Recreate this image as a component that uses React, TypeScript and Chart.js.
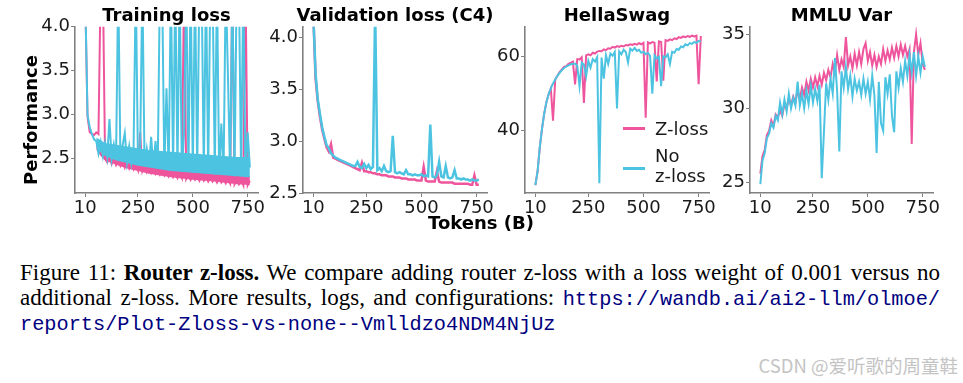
import React, { useEffect, useRef } from "react";
import { Chart, registerables } from "chart.js";

Chart.register(...registerables);

const PINK = "#EE559C";
const BLUE = "#4CC3E1";

const tokens = [
  10, 20, 30, 40, 50, 60, 70, 80, 90, 100,
  110, 120, 130, 140, 150, 160, 170, 180, 190, 200,
  210, 220, 230, 240, 250, 260, 270, 280, 290, 300,
  310, 320, 330, 340, 350, 360, 370, 380, 390, 400,
  410, 420, 430, 440, 450, 460, 470, 480, 490, 500,
  510, 520, 530, 540, 550, 560, 570, 580, 590, 600,
  610, 620, 630, 640, 650, 660, 670, 680, 690, 700,
  710, 720, 730, 740, 750, 760,
];

const xTicks = [10, 250, 500, 750];

// Training loss
const trainZ = [
  4.3, 2.98, 2.8, 2.78, 2.77, 2.8, 2.78, 4.5, 4.5, 2.5,
  2.46, 2.52, 2.44, 2.5, 2.43, 2.49, 2.42, 2.48, 2.4, 2.46,
  2.39, 2.45, 2.38, 2.44, 2.37, 2.8, 2.36, 2.42, 2.35, 2.41,
  2.34, 2.4, 2.33, 2.38, 2.32, 2.37, 2.31, 2.36, 2.3, 2.35,
  2.29, 2.34, 2.28, 2.33, 2.28, 4.5, 2.27, 2.32, 2.26, 2.31,
  2.26, 2.3, 2.25, 2.3, 2.25, 2.29, 2.24, 2.29, 2.24, 2.28,
  2.23, 2.28, 2.23, 2.27, 2.22, 2.27, 2.22, 4.5, 2.21, 2.26,
  2.21, 2.26, 2.2, 4.5, 2.2, 2.25,
];
const trainNo = [
  4.3, 3.0, 2.86, 2.78, 2.72, 2.7, 2.56, 2.69, 2.53, 2.68,
  2.52, 2.95, 2.5, 2.66, 2.49, 4.5, 2.48, 2.65, 2.79, 2.46,
  2.64, 2.45, 2.63, 4.5, 2.44, 2.62, 4.5, 2.42, 2.61, 2.41,
  2.75, 2.4, 2.7, 2.39, 4.5, 4.5, 2.38, 3.3, 2.37, 4.5,
  2.36, 4.5, 2.36, 4.5, 2.35, 2.8, 4.5, 2.35, 4.5, 2.34,
  4.5, 2.34, 4.5, 4.5, 2.33, 4.5, 2.33, 4.5, 4.5, 2.32,
  4.5, 2.32, 2.9, 2.32, 4.5, 3.45, 2.31, 4.5, 2.3, 4.5,
  4.5, 2.3, 4.5, 2.29, 2.8, 2.4,
];
// Noise-band envelopes of the training curves
const trainBandTokens = [60, 80, 100, 150, 200, 250, 300, 400, 500, 600, 700, 760];
const trainNoLow = [2.64, 2.57, 2.53, 2.48, 2.45, 2.42, 2.4, 2.36, 2.34, 2.32, 2.3, 2.29];
const trainNoHigh = [2.74, 2.71, 2.68, 2.66, 2.64, 2.62, 2.6, 2.58, 2.56, 2.54, 2.52, 2.52];
const trainZLow = [2.6, 2.53, 2.48, 2.43, 2.39, 2.36, 2.33, 2.29, 2.26, 2.24, 2.21, 2.2];
const trainZHigh = [2.66, 2.59, 2.55, 2.5, 2.47, 2.44, 2.42, 2.38, 2.36, 2.34, 2.32, 2.31];
const trainTicks = [2.5, 3.0, 3.5, 4.0];

// Validation loss (C4)
const valZ = [
  4.2, 3.6, 3.38, 3.23, 3.11, 3.02, 2.94, 2.9, 2.97, 2.84,
  2.83, 2.82, 2.81, 2.8, 2.79, 2.78, 2.77, 2.76, 2.75, 2.74,
  2.73, 2.72, 2.79, 2.71, 2.71, 2.7, 2.7, 2.69, 2.69, 2.68,
  2.68, 2.67, 2.67, 2.67, 2.66, 2.66, 2.66, 2.65, 2.65, 2.65,
  2.64, 2.64, 2.64, 2.63, 2.63, 2.63, 2.63, 2.62, 2.62, 2.62,
  2.75, 2.62, 2.61, 2.61, 2.61, 2.61, 2.71, 2.61, 2.6, 2.6,
  2.6, 2.6, 2.6, 2.6, 2.59, 2.59, 2.59, 2.59, 2.59, 2.59,
  2.59, 2.58, 2.58, 2.67, 2.58, 2.58,
];
const valNo = [
  4.2, 3.65, 3.4, 3.26, 3.13, 3.04, 2.96, 2.93, 2.88, 2.86,
  2.84, 2.83, 2.82, 2.81, 2.8, 2.79, 2.78, 2.77, 2.76, 2.76,
  2.8, 2.75, 2.74, 2.78, 2.74, 2.77, 2.73, 2.75, 4.3, 2.72,
  2.74, 2.71, 2.76, 2.71, 2.7, 2.71, 3.05, 2.7, 2.69, 2.7,
  2.69, 2.68, 2.72, 2.68, 2.68, 2.67, 2.68, 2.67, 2.67, 2.68,
  2.66, 2.67, 2.66, 3.16, 2.66, 2.65, 2.67, 2.8, 2.66, 2.65,
  2.76, 2.65, 2.64, 2.65, 2.72, 2.64, 2.64, 2.63, 2.64, 2.63,
  2.63, 2.62, 2.63, 2.62, 2.62, 2.63,
];
const valTicks = [2.5, 3.0, 3.5, 4.0];

// HellaSwag
const hellaZ = [
  25.3, 29, 35.5, 40.5, 44.6, 47.7, 49.8, 51.4, 42.7, 53.8,
  54.8, 55.8, 56.5, 57.2, 57.4, 58, 58.3, 58.6, 52.5, 59.3,
  59.2, 59.8, 47.5, 60.3, 60.6, 60.3, 61, 60.8, 61.3, 61.5,
  61.4, 61.9, 61.7, 62.2, 62.1, 62.6, 62.4, 62.8, 62.6, 62.9,
  62.7, 63.1, 63, 63.3, 63.1, 63.4, 63.2, 63.6, 63.3, 63.7,
  43.5, 63.8, 63.5, 63.9, 63.7, 53.3, 64.1, 63.9, 53.5, 64.4,
  64.2, 64.6, 64.4, 64.9, 64.7, 65.2, 65, 65.4, 65.2, 65.5,
  65.3, 65.6, 65.4, 65.6, 52.5, 65.5,
];
const hellaNo = [
  25.3, 29, 35.5, 40.5, 44.6, 47.7, 49.8, 51.4, 52.7, 53.8,
  54.8, 55.6, 56.3, 56.9, 57.3, 57.6, 57.9, 58, 58.1, 57.5,
  52, 58.3, 57.8, 54.7, 58.8, 57, 59.3, 58.6, 59.8, 25.8,
  59.7, 54, 60.3, 58, 60.8, 60.2, 61.2, 46, 61.4, 60.6,
  61.8, 61.2, 58.4, 62.1, 61.6, 62.3, 61.5, 61.8, 61, 61.3,
  60.6, 61, 60.2, 50, 60.3, 59.5, 59.9, 52, 60, 59.8,
  60.6, 58, 61.3, 61, 62, 61.8, 62.7, 62.5, 63.3, 63,
  63.6, 63.4, 63.9, 63.7, 64.2, 64,
];
const hellaTicks = [40, 60];

// MMLU Var
const mmluZ = [
  25.6, 26.8, 27.2, 28.2, 28.5, 29.2, 28.8, 29.6, 29.4, 29.9,
  29.5, 30.3, 30.0, 30.7, 30.2, 30.8, 30.4, 31.2, 30.6, 31.4,
  30.9, 31.8, 31.2, 32.0, 31.4, 32.1, 31.5, 32.2, 31.6, 32.4,
  31.9, 32.6, 32.1, 33.0, 32.4, 33.6, 32.6, 33.3, 32.8, 34.8,
  32.9, 33.5, 32.7, 33.7, 32.9, 33.8, 33.0, 34.0, 34.4, 33.2,
  33.8, 32.9, 33.6, 32.8, 33.5, 33.0, 34.0, 33.2, 33.9, 33.3,
  34.1, 33.4, 34.2, 33.5, 34.3, 33.6, 34.2, 33.5, 34.0, 27.6,
  33.8, 35.0, 33.6, 34.4, 33.0, 32.6,
];
const mmluNo = [
  24.9, 26.5, 27.0, 28.0, 28.3, 29.0, 28.7, 29.5, 29.2, 30.4,
  29.6, 30.6, 29.8, 31.0, 30.0, 30.7, 30.2, 31.8, 30.2, 31.0,
  30.0, 31.2, 30.3, 31.5, 30.4, 31.3, 30.5, 31.6, 25.3, 28.4,
  31.7, 30.6, 32.0, 31.0, 33.4, 31.2, 27.1, 32.5, 31.4, 32.8,
  31.3, 32.2, 30.8, 32.0, 31.2, 31.8, 30.9, 32.0, 31.0, 31.8,
  30.6, 32.2, 30.9, 27.0, 31.8, 29.0, 28.5, 32.1, 31.0, 32.3,
  29.5, 28.4, 32.5, 31.4, 32.7, 31.8, 33.2, 32.2, 33.6, 32.4,
  33.8, 32.2, 33.5, 32.4, 33.5, 32.8,
];
const mmluTicks = [25, 30, 35];

const TICK_FONT = { family: "'DejaVu Sans', sans-serif", size: 18 };
const TICK_COLOR = "#1a1a1a";
const AXIS_COLOR = "#808080";

type Bands = {
  x: number[];
  noLow: number[];
  noHigh: number[];
  zLow: number[];
  zHigh: number[];
};

type PanelProps = {
  axisLeft: number;
  axisRight: number;
  z: number[];
  no: number[];
  yMin: number;
  yMax: number;
  yTicks: number[];
  decimals: number;
  lineWidth: number;
  bands?: Bands;
};

const Y_W = 45;
const X_H = 30;
const PAD_T = 10;
const PAD_R = 12;
const AREA_TOP = 25;
const AREA_BOTTOM = 193;

const pts = (xs: number[], ys: number[]) => xs.map((x, i) => ({ x, y: ys[i] }));

function Panel(props: PanelProps) {
  const ref = useRef<HTMLCanvasElement | null>(null);
  const left = props.axisLeft - Y_W;
  const width = props.axisRight - props.axisLeft + Y_W + PAD_R;
  const top = AREA_TOP - PAD_T;
  const height = AREA_BOTTOM - AREA_TOP + PAD_T + X_H;

  useEffect(() => {
    if (!ref.current) return;
    const axisGrid = {
      display: true,
      drawOnChartArea: false,
      drawTicks: true,
      tickLength: 4,
      color: AXIS_COLOR,
      lineWidth: 1,
    };
    const datasets: any[] = [
      {
        label: "No z-loss",
        data: pts(tokens, props.no),
        borderColor: BLUE,
        backgroundColor: BLUE,
        borderWidth: props.lineWidth,
        pointRadius: 0,
        tension: 0,
        fill: false,
        order: 0,
      },
      {
        label: "Z-loss",
        data: pts(tokens, props.z),
        borderColor: PINK,
        backgroundColor: PINK,
        borderWidth: props.lineWidth,
        pointRadius: 0,
        tension: 0,
        fill: false,
        order: 2,
      },
    ];
    if (props.bands) {
      const b = props.bands;
      datasets.push(
        { label: "No z-loss low", data: pts(b.x, b.noLow), borderWidth: 0, pointRadius: 0, fill: false, order: 1 },
        { label: "No z-loss high", data: pts(b.x, b.noHigh), borderWidth: 0, pointRadius: 0, fill: "-1", backgroundColor: BLUE, order: 1 },
        { label: "Z-loss low", data: pts(b.x, b.zLow), borderWidth: 0, pointRadius: 0, fill: false, order: 3 },
        { label: "Z-loss high", data: pts(b.x, b.zHigh), borderWidth: 0, pointRadius: 0, fill: "-1", backgroundColor: PINK, order: 3 }
      );
    }
    const chart = new Chart(ref.current, {
      type: "line",
      data: { datasets },
      options: {
        responsive: false,
        animation: false,
        devicePixelRatio: 1,
        layout: { padding: { top: PAD_T, right: PAD_R, left: 0, bottom: 0 } },
        plugins: { legend: { display: false }, tooltip: { enabled: false } },
        scales: {
          x: {
            type: "linear",
            min: -37,
            max: 797,
            afterBuildTicks: (a: any) => {
              a.ticks = xTicks.map((v) => ({ value: v }));
            },
            afterFit: (s: any) => {
              s.height = X_H;
            },
            ticks: {
              font: TICK_FONT,
              color: TICK_COLOR,
              padding: 1,
              maxRotation: 0,
              autoSkip: false,
              callback: (v: any) => String(v),
            },
            grid: axisGrid,
            border: { display: true, color: AXIS_COLOR, width: 1.6 },
          },
          y: {
            type: "linear",
            min: props.yMin,
            max: props.yMax,
            afterBuildTicks: (a: any) => {
              a.ticks = props.yTicks.map((v) => ({ value: v }));
            },
            afterFit: (s: any) => {
              s.width = Y_W;
            },
            ticks: {
              font: TICK_FONT,
              color: TICK_COLOR,
              padding: 1,
              autoSkip: false,
              callback: (v: any) => Number(v).toFixed(props.decimals),
            },
            grid: axisGrid,
            border: { display: true, color: AXIS_COLOR, width: 1.6 },
          },
        },
      },
    });
    return () => chart.destroy();
  }, []);

  return (
    <canvas
      ref={ref}
      width={width}
      height={height}
      style={{ position: "absolute", left, top, width, height }}
    />
  );
}

const titleStyle = (center: number): React.CSSProperties => ({
  position: "absolute",
  left: center - 150,
  width: 300,
  top: 4,
  textAlign: "center",
  fontFamily: "'DejaVu Sans', sans-serif",
  fontWeight: "bold",
  fontSize: 18,
  lineHeight: "22px",
  color: "#000",
  whiteSpace: "nowrap",
});

const legendText: React.CSSProperties = {
  position: "absolute",
  left: 655,
  fontFamily: "'DejaVu Sans', sans-serif",
  fontSize: 18,
  lineHeight: "20px",
  color: "#1a1a1a",
  whiteSpace: "nowrap",
};

const mono: React.CSSProperties = {
  fontFamily: "'Liberation Mono', 'DejaVu Sans Mono', monospace",
  fontSize: 20.3,
  color: "#000080",
};

const captionLine: React.CSSProperties = {
  textAlign: "justify",
  textAlignLast: "justify",
  whiteSpace: "nowrap",
  height: 25,
};

export default function App() {
  return (
    <div
      style={{
        position: "absolute",
        left: 0,
        top: 0,
        width: 963,
        height: 383,
        background: "#fff",
        overflow: "hidden",
      }}
    >
      <Panel
        axisLeft={75}
        axisRight={258}
        z={trainZ}
        no={trainNo}
        yMin={2.11}
        yMax={4.0}
        yTicks={trainTicks}
        decimals={1}
        lineWidth={2}
        bands={{ x: trainBandTokens, noLow: trainNoLow, noHigh: trainNoHigh, zLow: trainZLow, zHigh: trainZHigh }}
      />
      <Panel axisLeft={303} axisRight={487} z={valZ} no={valNo} yMin={2.5} yMax={4.1} yTicks={valTicks} decimals={1} lineWidth={2.5} />
      <Panel axisLeft={525} axisRight={709} z={hellaZ} no={hellaNo} yMin={23.2} yMax={68} yTicks={hellaTicks} decimals={0} lineWidth={2} />
      <Panel axisLeft={750} axisRight={933} z={mmluZ} no={mmluNo} yMin={24.3} yMax={35.5} yTicks={mmluTicks} decimals={0} lineWidth={2} />

      <div style={titleStyle(166.5)}>Training loss</div>
      <div style={titleStyle(395)}>Validation loss (C4)</div>
      <div style={titleStyle(617)}>HellaSwag</div>
      <div style={titleStyle(841.5)}>MMLU Var</div>

      <div
        style={{
          position: "absolute",
          left: -69,
          top: 109,
          width: 200,
          height: 22,
          lineHeight: "22px",
          textAlign: "center",
          transform: "rotate(-90deg)",
          fontFamily: "'DejaVu Sans', sans-serif",
          fontWeight: "bold",
          fontSize: 18,
          color: "#000",
        }}
      >
        Performance
      </div>
      <div
        style={{
          position: "absolute",
          left: 381,
          width: 200,
          top: 212,
          textAlign: "center",
          fontFamily: "'DejaVu Sans', sans-serif",
          fontWeight: "bold",
          fontSize: 18,
          lineHeight: "22px",
          color: "#000",
        }}
      >
        Tokens (B)
      </div>

      <div style={{ position: "absolute", left: 623, top: 127, width: 22, height: 3, background: PINK }} />
      <div style={{ ...legendText, top: 119 }}>Z-loss</div>
      <div style={{ position: "absolute", left: 623, top: 167, width: 22, height: 3, background: BLUE }} />
      <div style={{ ...legendText, top: 146 }}>No</div>
      <div style={{ ...legendText, top: 166 }}>z-loss</div>

      <div
        style={{
          position: "absolute",
          left: 20,
          top: 260,
          width: 920,
          fontFamily: "'Liberation Serif', 'Times New Roman', serif",
          fontSize: 23,
          lineHeight: "25px",
          color: "#000",
        }}
      >
        <div style={captionLine}>
          Figure 11: <b>Router z-loss.</b> We compare adding router z-loss with a loss weight of 0.001 versus no
        </div>
        <div style={captionLine}>
          additional z-loss. More results, logs, and configurations: <span style={mono}>https://wandb.ai/ai2-llm/olmoe/</span>
        </div>
        <div style={{ whiteSpace: "nowrap", height: 25 }}>
          <span style={mono}>reports/Plot-Zloss-vs-none--Vmlldzo4NDM4NjUz</span>
        </div>
      </div>

      <div
        style={{
          position: "absolute",
          right: 5,
          top: 354,
          fontFamily: "'Noto Sans CJK SC', 'Noto Sans', sans-serif",
          fontSize: 18.5,
          lineHeight: "22px",
          color: "#c4c4c4",
          whiteSpace: "nowrap",
        }}
      >
        CSDN @爱听歌的周童鞋
      </div>
    </div>
  );
}
